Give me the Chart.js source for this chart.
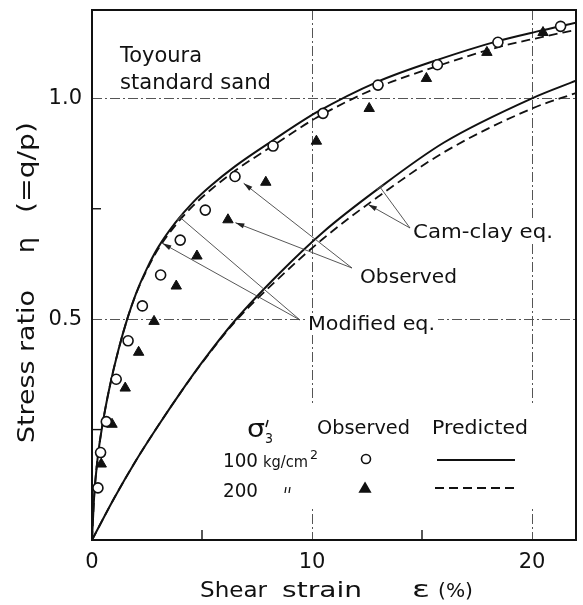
<!DOCTYPE html>
<html>
<head>
<meta charset="utf-8">
<script src="https://cdn.jsdelivr.net/npm/chart.js@4.4.1/dist/chart.umd.min.js"></script>
<style>
  html, body { margin: 0; padding: 0; background: #fff; }
  #wrap { width: 583px; height: 605px; }
</style>
</head>
<body>
<div id="wrap"><canvas id="chart" width="583" height="605"></canvas></div>
<script>
// observed, sigma3' = 100 kg/cm2 (open circles)
const obs100X = [0.27, 0.39, 0.65, 1.1, 1.64, 2.29, 3.12, 4.01, 5.15, 6.5, 8.23, 10.5, 13.0, 15.7, 18.45, 21.3];
const obs100Y = [0.118, 0.198, 0.268, 0.364, 0.451, 0.53, 0.6, 0.679, 0.747, 0.823, 0.892, 0.966, 1.03, 1.076, 1.127, 1.163];

// observed, sigma3' = 200 kg/cm2 (filled triangles)
const obs200X = [0.42, 0.91, 1.51, 2.12, 2.82, 3.83, 4.77, 6.18, 7.9, 10.2, 12.6, 15.2, 17.95, 20.5];
const obs200Y = [0.172, 0.262, 0.344, 0.425, 0.495, 0.575, 0.643, 0.725, 0.81, 0.903, 0.977, 1.045, 1.104, 1.149];

// predicted, modified eq.
const modX = [0, 0.1, 0.25, 0.5, 0.8, 1.2, 1.6, 2.0, 2.5, 3.0, 3.8, 4.6, 5.4, 6.5, 8.2, 10.2, 13.0, 15.7, 18.4, 20.2, 22];
const mod100 = [0, 0.1, 0.183, 0.268, 0.346, 0.43, 0.5, 0.558, 0.615, 0.662, 0.719, 0.765, 0.802, 0.846, 0.904, 0.968, 1.038, 1.087, 1.129, 1.151, 1.171];
const mod200 = [0, 0.1, 0.183, 0.268, 0.346, 0.43, 0.5, 0.557, 0.612, 0.658, 0.713, 0.757, 0.793, 0.836, 0.892, 0.956, 1.025, 1.073, 1.115, 1.136, 1.155];

// predicted, Cam-clay eq.
const camX = [0, 1, 2, 3, 4, 5, 6.5, 8.5, 10.5, 13, 16, 20, 22];
const cam100 = [0, 0.094, 0.18, 0.258, 0.332, 0.402, 0.497, 0.603, 0.697, 0.795, 0.9, 1.0, 1.04];
const cam200 = [0, 0.094, 0.18, 0.258, 0.332, 0.401, 0.494, 0.593, 0.682, 0.777, 0.878, 0.977, 1.012];

// axes
const xTickValues = [0, 10, 20];
const xTickLabels = ['0', '10', '20'];
const xMinorTicks = [5, 15];
const yTickValues = [0.5, 1.0];
const yTickLabels = ['0.5', '1.0'];
const yMinorTicks = [0.25, 0.75];

const FONT = '"DejaVu Sans", sans-serif';
const INK = '#111';

function pts(xs, ys) {
  return xs.map((x, i) => ({ x: x, y: ys[i] }));
}

function yOnCurve(xs, ys, v) {
  for (let i = 1; i < xs.length; i++) {
    if (v <= xs[i]) {
      const t = (v - xs[i - 1]) / (xs[i] - xs[i - 1]);
      return ys[i - 1] + t * (ys[i] - ys[i - 1]);
    }
  }
  return ys[ys.length - 1];
}

// draw text squeezed to a given width (the original lettering is narrow and tall)
function fitText(ctx, s, x, y, size, width, align) {
  ctx.font = size + 'px ' + FONT;
  const w = ctx.measureText(s).width;
  const sx = width ? width / w : 1;
  ctx.save();
  ctx.translate(x, y);
  ctx.scale(sx, 1);
  ctx.textAlign = align || 'left';
  ctx.fillText(s, 0, 0);
  ctx.restore();
  return w * sx;
}

function leader(ctx, fx, fy, tx, ty, kind, gap) {
  const dx = tx - fx, dy = ty - fy, len = Math.hypot(dx, dy);
  const ux = dx / len, uy = dy / len;
  const ex = tx - ux * (gap || 0), ey = ty - uy * (gap || 0);
  ctx.beginPath();
  ctx.moveTo(fx, fy);
  ctx.lineTo(ex, ey);
  ctx.stroke();
  if (kind === 'arrow') {
    ctx.beginPath();
    ctx.moveTo(ex, ey);
    ctx.lineTo(ex - ux * 9 - uy * 2.5, ey - uy * 9 + ux * 2.5);
    ctx.lineTo(ex - ux * 9 + uy * 2.5, ey - uy * 9 - ux * 2.5);
    ctx.closePath();
    ctx.fill();
  } else {
    ctx.save();
    ctx.lineWidth = 1.6;
    ctx.beginPath();
    ctx.moveTo(ex - uy * 4, ey + ux * 4);
    ctx.lineTo(ex + uy * 4, ey - ux * 4);
    ctx.stroke();
    ctx.restore();
  }
}

const notes = [
  { text: 'Cam-clay eq.', x: 413, y: 238, w: 140, from: [410, 228],
    marks: [{ xs: camX, ys: cam100, at: 13.1, kind: 'tick' },
            { xs: camX, ys: cam200, at: 12.55, kind: 'arrow' }] },
  { text: 'Observed', x: 360, y: 283, w: 97, from: [352, 268],
    marks: [{ px: obs100X[9], py: obs100Y[9], gap: 11, kind: 'arrow' },
            { px: obs200X[7], py: obs200Y[7], gap: 8, kind: 'arrow' }] },
  { text: 'Modified eq.', x: 308, y: 330, w: 127, from: [300, 320],
    marks: [{ xs: modX, ys: mod100, at: 4.0, kind: 'tick' },
            { xs: modX, ys: mod200, at: 3.2, kind: 'arrow' }] }
];

const paper = {
  id: 'paper',
  beforeDraw(chart) {
    const ctx = chart.ctx;
    ctx.save();
    ctx.fillStyle = '#fff';
    ctx.fillRect(0, 0, chart.width, chart.height);
    ctx.restore();
  },
  afterDraw(chart) {
    const { ctx, chartArea: a } = chart;
    const sx = chart.scales.x, sy = chart.scales.y;
    ctx.save();
    ctx.fillStyle = INK;
    ctx.strokeStyle = INK;
    ctx.textBaseline = 'alphabetic';

    // frame
    ctx.lineWidth = 2;
    ctx.strokeRect(a.left, a.top, a.right - a.left, a.bottom - a.top);

    // inward minor ticks
    ctx.lineWidth = 1.4;
    xMinorTicks.forEach(v => {
      const p = sx.getPixelForValue(v);
      ctx.beginPath(); ctx.moveTo(p, a.bottom); ctx.lineTo(p, a.bottom - 10); ctx.stroke();
    });
    yMinorTicks.forEach(v => {
      const p = sy.getPixelForValue(v);
      ctx.beginPath(); ctx.moveTo(a.left, p); ctx.lineTo(a.left + 9, p); ctx.stroke();
    });

    // sample note
    fitText(ctx, 'Toyoura', 120, 62, 21, 82);
    fitText(ctx, 'standard sand', 120, 89, 21, 151);

    // annotations with leader lines
    notes.forEach(n => {
      ctx.fillStyle = '#fff';
      ctx.fillRect(n.x - 3, n.y - 17, n.w + 6, 22);
      ctx.fillStyle = INK;
      fitText(ctx, n.text, n.x, n.y, 20, n.w);
      ctx.strokeStyle = '#444';
      ctx.fillStyle = '#222';
      ctx.lineWidth = 0.9;
      n.marks.forEach(m => {
        let tx, ty;
        if (m.xs) {
          tx = sx.getPixelForValue(m.at);
          ty = sy.getPixelForValue(yOnCurve(m.xs, m.ys, m.at));
        } else {
          tx = sx.getPixelForValue(m.px);
          ty = sy.getPixelForValue(m.py);
        }
        leader(ctx, n.from[0], n.from[1], tx, ty, m.kind, m.gap);
      });
      ctx.strokeStyle = INK;
      ctx.fillStyle = INK;
    });

    // legend table
    ctx.fillStyle = '#fff';
    ctx.fillRect(213, 405, 325, 104);
    ctx.fillStyle = INK;
    fitText(ctx, 'σ', 247, 437, 25, 18);
    ctx.lineWidth = 1.5;
    ctx.beginPath(); ctx.moveTo(268, 420); ctx.lineTo(266, 427); ctx.stroke();
    fitText(ctx, '3', 265, 443, 14, 8);
    fitText(ctx, 'Observed', 317, 434, 19, 93);
    fitText(ctx, 'Predicted', 432, 434, 19, 96);
    fitText(ctx, '100', 223, 467, 19, 35);
    fitText(ctx, 'kg/cm', 263, 467, 16, 45);
    fitText(ctx, '2', 310, 459, 12, 8);
    fitText(ctx, '200', 223, 497, 19, 35);
    // ditto mark
    ctx.lineWidth = 1.3;
    ctx.beginPath();
    ctx.moveTo(286, 487); ctx.lineTo(285, 493);
    ctx.moveTo(290, 487); ctx.lineTo(289, 493);
    ctx.stroke();
    // markers and line keys
    ctx.lineWidth = 1.6;
    ctx.beginPath(); ctx.arc(366, 459, 4.5, 0, Math.PI * 2);
    ctx.fillStyle = '#fff'; ctx.fill(); ctx.stroke();
    ctx.fillStyle = INK;
    Chart.helpers.drawPoint(ctx, { pointStyle: 'triangle', radius: 6, borderWidth: 1, rotation: 0 }, 365, 489);
    ctx.lineWidth = 1.8;
    ctx.beginPath(); ctx.moveTo(437, 460); ctx.lineTo(515, 460); ctx.stroke();
    ctx.setLineDash([9, 5]);
    ctx.beginPath(); ctx.moveTo(435, 488); ctx.lineTo(515, 488); ctx.stroke();
    ctx.setLineDash([]);

    // y axis title (rotated)
    ctx.save();
    ctx.translate(34, 0);
    ctx.rotate(-Math.PI / 2);
    fitText(ctx, 'Stress ratio', -443, 0, 23, 153);
    fitText(ctx, 'η', -245, 0, 25, 0, 'center');
    fitText(ctx, '(=q/p)', -213, 0, 23, 91);
    ctx.restore();

    // x axis title
    fitText(ctx, 'Shear', 200, 597, 22, 67);
    fitText(ctx, 'strain', 282, 597, 22, 80);
    fitText(ctx, 'ε', 412, 597, 23, 18);
    fitText(ctx, '(%)', 438, 597, 19, 35);

    ctx.restore();
  }
};

const lineBase = {
  showLine: true,
  pointRadius: 0,
  pointHoverRadius: 0,
  borderColor: INK,
  backgroundColor: INK,
  fill: false,
  cubicInterpolationMode: 'monotone'
};

const ctx = document.getElementById('chart').getContext('2d');

const chart = new Chart(ctx, {
  type: 'scatter',
  data: {
    datasets: [
      {
        label: 'Observed 100 kg/cm2',
        data: pts(obs100X, obs100Y),
        pointStyle: 'circle',
        pointRadius: 5,
        backgroundColor: '#fff',
        borderColor: INK,
        borderWidth: 1.6,
        showLine: false
      },
      {
        label: 'Observed 200 kg/cm2',
        data: pts(obs200X, obs200Y),
        pointStyle: 'triangle',
        pointRadius: 6,
        backgroundColor: INK,
        borderColor: INK,
        borderWidth: 1,
        showLine: false
      },
      Object.assign({}, lineBase, { label: 'Modified eq. 100', data: pts(modX, mod100), borderWidth: 2 }),
      Object.assign({}, lineBase, { label: 'Modified eq. 200', data: pts(modX, mod200), borderWidth: 1.8, borderDash: [9, 5] }),
      Object.assign({}, lineBase, { label: 'Cam-clay eq. 100', data: pts(camX, cam100), borderWidth: 2 }),
      Object.assign({}, lineBase, { label: 'Cam-clay eq. 200', data: pts(camX, cam200), borderWidth: 1.8, borderDash: [9, 5] })
    ]
  },
  options: {
    responsive: false,
    animation: false,
    devicePixelRatio: 1,
    layout: { padding: { top: 10, right: 5, left: 0, bottom: 0 } },
    plugins: {
      legend: { display: false },
      tooltip: { enabled: false }
    },
    scales: {
      x: {
        type: 'linear',
        min: 0,
        max: 22,
        afterFit(s) { s.height = 65; s.paddingLeft = 0; s.paddingRight = 0; },
        afterBuildTicks(s) { s.ticks = xTickValues.map(v => ({ value: v })); },
        ticks: {
          color: INK,
          font: { family: FONT, size: 21 },
          padding: 10,
          maxRotation: 0,
          autoSkip: false,
          callback: (v, i) => xTickLabels[i]
        },
        grid: {
          drawTicks: false,
          lineWidth: 1,
          color: c => (c.tick && c.tick.value === 0) ? 'rgba(0,0,0,0)' : '#555'
        },
        border: { display: false, dash: [10, 3, 2, 3] }
      },
      y: {
        type: 'linear',
        min: 0,
        max: 1.2,
        afterFit(s) { s.width = 92; s.paddingTop = 0; s.paddingBottom = 0; },
        afterBuildTicks(s) { s.ticks = yTickValues.map(v => ({ value: v })); },
        ticks: {
          color: INK,
          font: { family: FONT, size: 21 },
          padding: 10,
          autoSkip: false,
          callback: (v, i) => yTickLabels[i]
        },
        grid: {
          drawTicks: false,
          lineWidth: 1,
          color: '#555'
        },
        border: { display: false, dash: [10, 3, 2, 3] }
      }
    }
  },
  plugins: [paper]
});
</script>
</body>
</html>
